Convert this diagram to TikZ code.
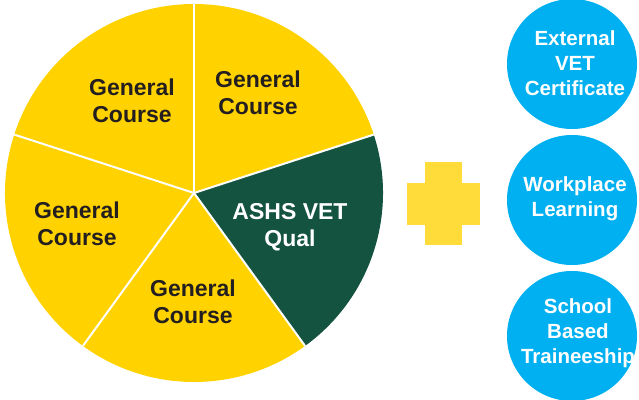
\documentclass[tikz,border=0pt]{standalone}
\usepackage{fontspec}
\setmainfont{Liberation Sans}
\definecolor{pieyellow}{HTML}{FFD200}
\definecolor{piegreen}{HTML}{13533F}
\definecolor{plusyellow}{HTML}{FFDC3A}
\definecolor{bubbleblue}{HTML}{00B0F0}
\definecolor{darktext}{HTML}{231F20}
\tikzset{
  slicetext/.style={align=center, font=\fontsize{23}{27}\selectfont\bfseries, text=darktext},
  bubble/.style={circle, fill=bubbleblue, minimum size=130pt, inner sep=0pt},
  bubbletext/.style={align=center, font=\fontsize{20.5}{25}\selectfont\bfseries, text=white}
}
\begin{document}
\begin{tikzpicture}[x=1pt,y=1pt]
    \useasboundingbox (0,0) rectangle (639,399);
    \coordinate (centre) at (194,206);

    % Fette della torta
    \foreach \a in {18,90,162,234} {
        \fill[pieyellow] (centre) -- ++(\a:189) arc (\a:\a+72:189) -- cycle;
    }
    \fill[piegreen] (centre) -- ++(-54:189) arc (-54:18:189) -- cycle;

    % Linee bianche
    \foreach \a in {18,90,162,234,306} {
        \draw[white, line width=2pt] (centre) -- ++(\a:189);
    }

    % Testi delle fette
    \node[slicetext] (topleft) at (132,298) {General\\Course};
    \node[slicetext] (topright) at (258,306) {General\\Course};
    \node[slicetext] (left) at (77,175) {General\\Course};
    \node[slicetext] (bottom) at (193,97) {General\\Course};
    \node[slicetext, text=white] (vetqual) at (290,172) {ASHS VET\\Qual};

    % Segno piu
    \fill[plusyellow] (425,154) rectangle (462,237);
    \fill[plusyellow] (407,174) rectangle (480,216);

    % Cerchi
    \node[bubble] (external) at (572,335) {};
    \node[bubble] (workplace) at (572,199) {};
    \node[bubble] (school) at (572,63) {};
    \node[bubbletext] at (575,336) {External\\VET\\Certificate};
    \node[bubbletext] at (575,200) {Workplace\\Learning};
    \node[bubbletext] at (578,66) {School\\Based\\Traineeship};
\end{tikzpicture}
\end{document}
